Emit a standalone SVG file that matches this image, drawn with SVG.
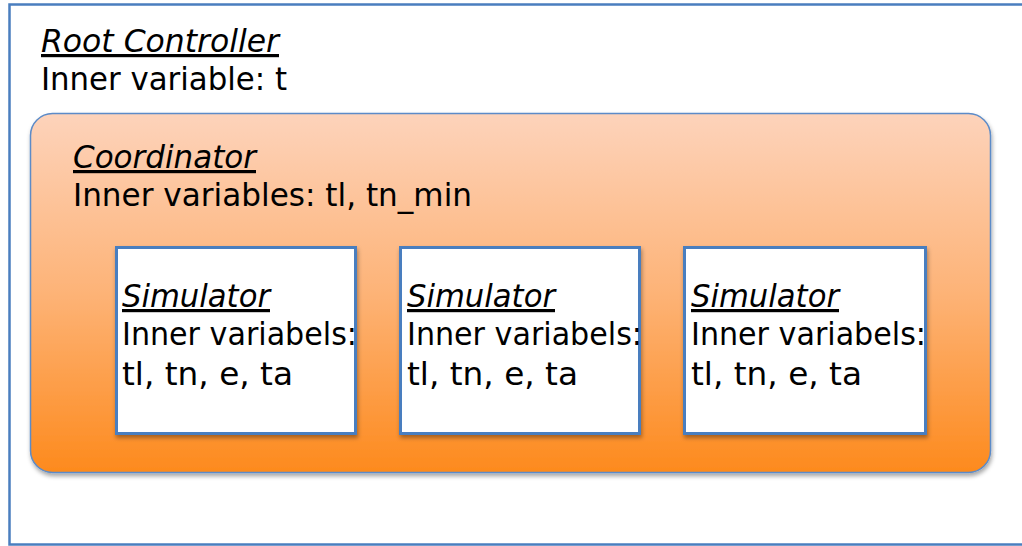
<svg xmlns="http://www.w3.org/2000/svg" width="1022" height="546" viewBox="0 0 1022 546">
<defs>
<linearGradient id="og" x1="0" y1="0" x2="0" y2="1">
<stop offset="0" stop-color="#fdd3bb"/>
<stop offset="0.5" stop-color="#fdb377"/>
<stop offset="1" stop-color="#fd8a1d"/>
</linearGradient>
<filter id="sh" x="-10%" y="-10%" width="120%" height="125%">
<feDropShadow dx="1" dy="3" stdDeviation="2" flood-color="#000" flood-opacity="0.35"/>
</filter>
<style>
text{font-family:"DejaVu Sans","Liberation Sans",sans-serif;font-size:32px;fill:#000}
.t{font-style:italic;text-decoration:underline}
.box{fill:#fff;stroke:#4a7ebf;stroke-width:3}
</style>
</defs>
<rect width="1022" height="546" fill="#fff"/>
<g id="root">
<rect x="9.5" y="4.5" width="1030" height="540" fill="#fff" stroke="#4a7ebf" stroke-width="2.5"/>
<text class="t" x="41" y="52" textLength="238" lengthAdjust="spacingAndGlyphs">Root Controller</text>
<text x="41" y="90" textLength="246" lengthAdjust="spacingAndGlyphs">Inner variable: t</text>
</g>
<g id="coordinator">
<rect x="30.5" y="113.5" width="960" height="359" rx="22" fill="url(#og)" stroke="#5b8bc8" stroke-width="1.5" filter="url(#sh)"/>
<text class="t" x="73" y="168" textLength="183" lengthAdjust="spacingAndGlyphs">Coordinator</text>
<text x="73" y="206" textLength="399" lengthAdjust="spacingAndGlyphs">Inner variables: tl, tn_min</text>
</g>
<g id="simulator1">
<rect class="box" x="116.5" y="247.5" width="239" height="186" filter="url(#sh)"/>
<text class="t" x="122" y="307" textLength="148" lengthAdjust="spacingAndGlyphs">Simulator</text>
<text x="122" y="345" textLength="235" lengthAdjust="spacingAndGlyphs">Inner variabels:</text>
<text x="122" y="385" textLength="171" lengthAdjust="spacingAndGlyphs">tl, tn, e, ta</text>
</g>
<g id="simulator2">
<rect class="box" x="400.5" y="247.5" width="239" height="186" filter="url(#sh)"/>
<text class="t" x="407" y="307" textLength="148" lengthAdjust="spacingAndGlyphs">Simulator</text>
<text x="407" y="345" textLength="235" lengthAdjust="spacingAndGlyphs">Inner variabels:</text>
<text x="407" y="385" textLength="171" lengthAdjust="spacingAndGlyphs">tl, tn, e, ta</text>
</g>
<g id="simulator3">
<rect class="box" x="684.5" y="247.5" width="241" height="186" filter="url(#sh)"/>
<text class="t" x="691" y="307" textLength="148" lengthAdjust="spacingAndGlyphs">Simulator</text>
<text x="691" y="345" textLength="235" lengthAdjust="spacingAndGlyphs">Inner variabels:</text>
<text x="691" y="385" textLength="171" lengthAdjust="spacingAndGlyphs">tl, tn, e, ta</text>
</g>
<g id="connectors"/>
</svg>
